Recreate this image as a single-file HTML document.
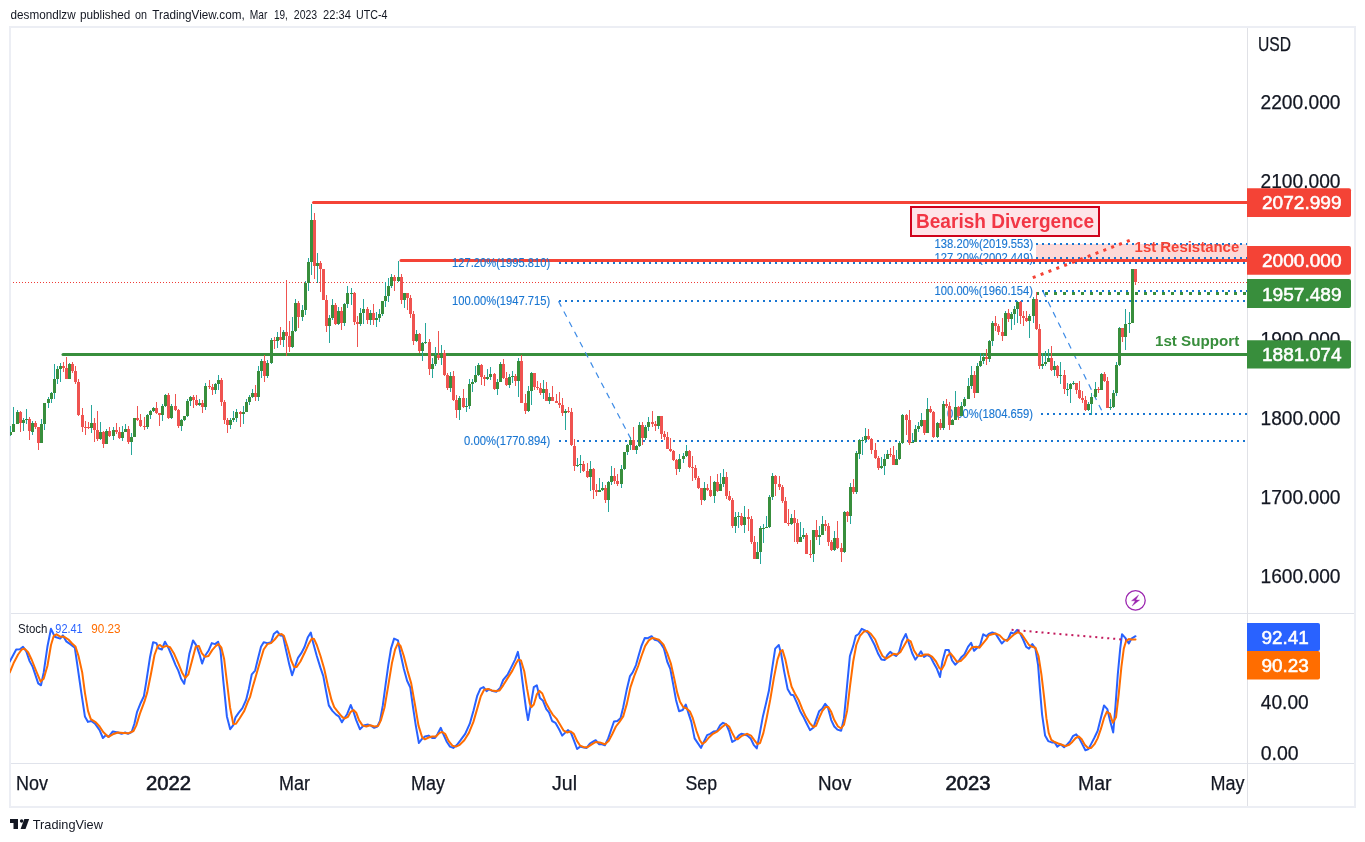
<!DOCTYPE html>
<html lang="en"><head><meta charset="utf-8"><title>TradingView chart snapshot</title>
<style>html,body{margin:0;padding:0;background:#fff}body{width:1365px;height:842px;overflow:hidden;position:relative}svg{position:absolute;left:0;top:0;display:block}text{font-family:"Liberation Sans",Arial,sans-serif;fill:#131722}.ax{font-size:20px;stroke:#131722;stroke-width:.25px}.wl{font-size:18.8px;fill:#fff;stroke:#fff;stroke-width:.55px}.fib{font-size:12.5px;fill:#1976d2;stroke:#1976d2;stroke-width:.12px}.b{font-weight:700}.sb{stroke:#131722;stroke-width:.6px}</style></head><body>
<svg width="1365" height="842" viewBox="0 0 1365 842">
<rect width="1365" height="842" fill="#fff"/>
<text y="19.4" font-size="13"><tspan x="10.6" textLength="65.0" lengthAdjust="spacingAndGlyphs">desmondlzw</tspan> <tspan x="80.0" textLength="50.3" lengthAdjust="spacingAndGlyphs">published</tspan> <tspan x="135.1" textLength="12.0" lengthAdjust="spacingAndGlyphs">on</tspan> <tspan x="152.3" textLength="92.4" lengthAdjust="spacingAndGlyphs">TradingView.com,</tspan> <tspan x="249.8" textLength="17.6" lengthAdjust="spacingAndGlyphs">Mar</tspan> <tspan x="274.0" textLength="13.9" lengthAdjust="spacingAndGlyphs">19,</tspan> <tspan x="293.8" textLength="23.4" lengthAdjust="spacingAndGlyphs">2023</tspan> <tspan x="323.1" textLength="27.8" lengthAdjust="spacingAndGlyphs">22:34</tspan> <tspan x="356.0" textLength="31.5" lengthAdjust="spacingAndGlyphs">UTC-4</tspan></text>
<g fill="none" shape-rendering="crispEdges">
<rect x="10" y="27" width="1345" height="780" stroke="#eceef4" stroke-width="2"/>
<path d="M11 613.5H1354M11 763.5H1354" stroke="#e0e3eb" stroke-width="1"/>
<path d="M1247.5 28V806" stroke="#e0e1e6" stroke-width="1"/>
</g>
<defs><clipPath id="cm"><rect x="10" y="27" width="1237" height="586"/></clipPath><clipPath id="cs"><rect x="10" y="614" width="1237" height="149"/></clipPath></defs>
<g clip-path="url(#cm)">
<path d="M13 282.5H1247" stroke="#ef3b36" stroke-width="1" stroke-dasharray="1 2" fill="none" shape-rendering="crispEdges"/>
<rect x="1036" y="244" width="211" height="15" fill="#f44336" fill-opacity=".2"/>
<text x="934.6" y="247.8" textLength="98.7" lengthAdjust="spacingAndGlyphs" class="fib">138.20%(2019.553)</text>
<text x="934.6" y="262.2" textLength="98.7" lengthAdjust="spacingAndGlyphs" class="fib">127.20%(2002.449)</text>
<text x="934.6" y="294.8" textLength="98.4" lengthAdjust="spacingAndGlyphs" class="fib">100.00%(1960.154)</text>
<text x="946.9" y="417.8" textLength="86.1" lengthAdjust="spacingAndGlyphs" class="fib">0.00%(1804.659)</text>
<path d="M1036.0 244.0H1247.0" stroke="#1976d2" stroke-width="2" stroke-dasharray="2 4" fill="none" shape-rendering="crispEdges"/>
<path d="M1036.0 258.0H1247.0" stroke="#1976d2" stroke-width="2" stroke-dasharray="2 4" fill="none" shape-rendering="crispEdges"/>
<path d="M1042.0 291.0H1247.0" stroke="#1976d2" stroke-width="2" stroke-dasharray="2 4" fill="none" shape-rendering="crispEdges"/>
<path d="M1041.0 414.0H1247.0" stroke="#1976d2" stroke-width="2" stroke-dasharray="2 4" fill="none" shape-rendering="crispEdges"/>
<path d="M1043 291.5L1103.5 414.3" stroke="#3d8be6" stroke-width="1.2" stroke-dasharray="6 5.5" fill="none"/>
<path d="M1036 293.5H1247" stroke="#388e3c" stroke-width="3" stroke-dasharray="3 6" fill="none" shape-rendering="crispEdges"/>
<path d="M1042.0 291.0H1247.0" stroke="#1976d2" stroke-width="2" stroke-dasharray="2 4" fill="none" shape-rendering="crispEdges"/>
<g stroke-width="3" stroke-linecap="round" fill="none">
<path d="M313.5 202.5H1247" stroke="#f44336"/>
<path d="M401 260.5H1247" stroke="#f44336"/>
<path d="M63 354.5H1247" stroke="#388e3c"/>
</g>
<text x="452.0" y="266.7" textLength="98.2" lengthAdjust="spacingAndGlyphs" class="fib">127.20%(1995.810)</text>
<text x="452.0" y="304.8" textLength="98.2" lengthAdjust="spacingAndGlyphs" class="fib">100.00%(1947.715)</text>
<text x="464.0" y="444.6" textLength="86.3" lengthAdjust="spacingAndGlyphs" class="fib">0.00%(1770.894)</text>
<path d="M559.0 263.0H1247.0" stroke="#1976d2" stroke-width="2" stroke-dasharray="2 4" fill="none" shape-rendering="crispEdges"/>
<path d="M559.0 301.0H1247.0" stroke="#1976d2" stroke-width="2" stroke-dasharray="2 4" fill="none" shape-rendering="crispEdges"/>
<path d="M559.0 441.0H1247.0" stroke="#1976d2" stroke-width="2" stroke-dasharray="2 4" fill="none" shape-rendering="crispEdges"/>
<path d="M558.5 301.3L632 441" stroke="#3d8be6" stroke-width="1.2" stroke-dasharray="6 5.5" fill="none"/>
<path d="M1032.8 277.6L1129.8 240.4" stroke="#f44336" stroke-width="3" stroke-dasharray="3 5.4" fill="none"/>
<rect x="911" y="207" width="188" height="29" fill="#fee4e8" stroke="#d0021b" stroke-width="2"/>
<text x="916.0" y="227.8" textLength="178.0" lengthAdjust="spacingAndGlyphs" class="b" font-size="19.5" style="fill:#f23645">Bearish Divergence</text>
<text x="1134.6" y="251.9" textLength="104.6" lengthAdjust="spacingAndGlyphs" class="b" font-size="14" style="fill:#f44336">1st Resistance</text>
<text x="1155.0" y="345.5" textLength="84.2" lengthAdjust="spacingAndGlyphs" class="b" font-size="14" style="fill:#388e3c">1st Support</text>
<g shape-rendering="crispEdges">
<path d="M10.5 426 V436M13.5 407 V432M17.5 410 V424M23.5 418 V431M26.5 409 V424M32.5 421 V435M41.5 419 V443M44.5 403 V430M48.5 397 V408M51.5 392 V403M54.5 364 V399M57.5 366 V384M60.5 363 V382M69.5 363 V379M91.5 405 V433M100.5 422 V440M106.5 429 V444M113.5 427 V440M122.5 426 V441M125.5 424 V432M131.5 433 V455M134.5 418 V437M147.5 414 V429M150.5 410 V419M153.5 407 V412M162.5 404 V421M165.5 394 V407M171.5 404 V419M181.5 419 V431M184.5 416 V421M187.5 399 V417M190.5 396 V406M199.5 399 V406M205.5 383 V410M215.5 383 V394M218.5 375 V390M230.5 418 V429M233.5 411 V422M236.5 409 V422M243.5 406 V424M246.5 399 V412M249.5 395 V405M252.5 389 V398M258.5 366 V401M261.5 359 V378M267.5 360 V378M271.5 338 V364M277.5 332 V348M283.5 330 V347M292.5 317 V348M295.5 299 V332M302.5 305 V321M305.5 281 V315M308.5 258 V291M311.5 204 V275M317.5 253 V283M329.5 315 V343M332.5 299 V320M338.5 307 V325M344.5 303 V326M347.5 286 V308M351.5 288 V305M360.5 308 V326M363.5 299 V324M370.5 310 V325M376.5 312 V327M379.5 309 V322M382.5 301 V316M385.5 282 V307M388.5 278 V302M391.5 274 V288M398.5 261 V282M404.5 293 V308M416.5 330 V342M422.5 342 V361M425.5 323 V344M432.5 358 V378M435.5 347 V366M441.5 345 V365M450.5 372 V392M459.5 396 V420M466.5 398 V412M469.5 379 V409M472.5 379 V392M475.5 366 V383M478.5 363 V376M487.5 369 V380M490.5 367 V380M497.5 379 V395M500.5 362 V382M509.5 374 V388M512.5 371 V383M518.5 358 V397M528.5 386 V412M531.5 372 V405M543.5 380 V399M549.5 393 V404M565.5 409 V430M577.5 458 V467M580.5 455 V473M590.5 461 V491M599.5 478 V492M602.5 482 V491M608.5 481 V512M611.5 466 V485M621.5 465 V488M624.5 452 V470M627.5 444 V455M630.5 437 V450M636.5 445 V454M639.5 422 V447M645.5 425 V440M648.5 417 V431M658.5 416 V429M679.5 454 V472M683.5 453 V463M686.5 445 V457M704.5 482 V501M714.5 481 V503M720.5 473 V491M723.5 469 V487M735.5 512 V533M738.5 512 V528M744.5 506 V533M757.5 542 V559M760.5 526 V564M763.5 524 V543M766.5 516 V528M769.5 495 V528M772.5 473 V500M791.5 514 V525M800.5 522 V542M803.5 528 V539M813.5 530 V562M819.5 526 V545M822.5 516 V535M834.5 531 V551M844.5 511 V553M850.5 483 V524M856.5 451 V494M859.5 439 V459M862.5 437 V455M865.5 428 V443M881.5 457 V469M884.5 454 V475M887.5 450 V459M896.5 450 V465M899.5 441 V460M902.5 414 V444M912.5 433 V443M915.5 425 V442M918.5 422 V432M921.5 413 V427M927.5 398 V433M937.5 422 V438M943.5 401 V430M952.5 419 V425M955.5 391 V420M961.5 402 V416M964.5 397 V407M968.5 378 V399M971.5 366 V389M977.5 363 V393M980.5 353 V367M983.5 354 V364M989.5 340 V362M992.5 321 V346M1005.5 311 V336M1011.5 312 V330M1014.5 306 V325M1017.5 301 V323M1029.5 314 V338M1033.5 297 V323M1042.5 353 V369M1045.5 351 V366M1048.5 349 V362M1054.5 361 V376M1060.5 362 V384M1067.5 383 V396M1070.5 383 V403M1073.5 381 V385M1088.5 402 V411M1091.5 393 V415M1095.5 382 V398M1101.5 373 V390M1110.5 399 V410M1113.5 390 V408M1116.5 362 V396M1119.5 327 V366M1125.5 309 V350M1129.5 312 V333M1132.5 269 V323" stroke="#26a69a" stroke-width="1" fill="none"/>
<path d="M20.5 411 V432M29.5 417 V440M35.5 421 V429M38.5 427 V450M63.5 362 V372M66.5 357 V379M72.5 362 V373M75.5 366 V384M78.5 379 V416M82.5 408 V432M85.5 421 V435M88.5 422 V429M94.5 418 V442M97.5 411 V441M103.5 431 V448M109.5 427 V437M116.5 423 V434M119.5 427 V439M128.5 426 V444M137.5 406 V421M140.5 414 V427M144.5 417 V430M156.5 402 V414M159.5 413 V426M168.5 393 V419M175.5 394 V411M178.5 409 V428M193.5 395 V408M196.5 395 V406M202.5 400 V413M209.5 380 V389M212.5 384 V395M221.5 378 V406M224.5 400 V424M227.5 418 V433M240.5 411 V427M255.5 385 V401M264.5 355 V382M274.5 337 V349M280.5 327 V345M286.5 280 V356M289.5 321 V352M298.5 301 V328M314.5 213 V279M320.5 261 V292M323.5 269 V300M326.5 295 V332M335.5 303 V325M341.5 307 V330M354.5 292 V325M357.5 316 V347M367.5 307 V324M373.5 304 V325M394.5 275 V291M401.5 274 V304M407.5 293 V310M410.5 295 V318M413.5 311 V345M419.5 333 V353M429.5 339 V375M438.5 331 V360M444.5 350 V376M447.5 373 V390M453.5 371 V401M456.5 395 V418M463.5 389 V408M481.5 364 V385M484.5 375 V386M494.5 373 V390M503.5 359 V379M506.5 372 V386M515.5 374 V386M521.5 355 V403M525.5 394 V414M534.5 373 V390M537.5 381 V390M540.5 383 V395M546.5 382 V401M552.5 386 V401M556.5 394 V403M559.5 392 V408M562.5 398 V416M568.5 407 V413M571.5 408 V446M574.5 439 V471M583.5 461 V472M587.5 463 V478M593.5 468 V499M596.5 484 V496M605.5 485 V503M614.5 468 V484M617.5 474 V486M633.5 427 V450M642.5 422 V445M652.5 411 V427M655.5 421 V431M661.5 416 V439M664.5 431 V440M667.5 432 V449M670.5 438 V452M673.5 450 V461M676.5 459 V475M689.5 450 V468M692.5 456 V481M695.5 465 V480M698.5 476 V489M701.5 488 V505M707.5 484 V491M710.5 476 V497M717.5 474 V492M726.5 472 V499M729.5 491 V501M732.5 498 V528M741.5 513 V526M748.5 509 V531M751.5 516 V544M754.5 536 V559M775.5 475 V496M779.5 476 V490M782.5 485 V503M785.5 497 V523M788.5 509 V526M794.5 510 V542M797.5 519 V544M806.5 533 V554M810.5 540 V558M816.5 520 V540M825.5 520 V531M828.5 523 V546M831.5 540 V551M837.5 521 V549M841.5 543 V562M847.5 511 V522M853.5 479 V494M868.5 429 V440M871.5 438 V454M875.5 443 V459M878.5 456 V470M890.5 448 V457M893.5 446 V465M906.5 414 V435M909.5 410 V445M924.5 420 V435M930.5 406 V413M933.5 411 V438M940.5 419 V430M946.5 399 V408M949.5 402 V430M958.5 406 V420M974.5 371 V398M986.5 349 V365M995.5 316 V331M998.5 324 V335M1002.5 318 V341M1008.5 309 V322M1020.5 301 V324M1023.5 311 V326M1026.5 311 V322M1036.5 292 V330M1039.5 324 V369M1051.5 346 V371M1057.5 365 V378M1064.5 370 V394M1076.5 383 V394M1079.5 381 V399M1082.5 391 V403M1085.5 396 V411M1098.5 387 V393M1104.5 372 V382M1107.5 377 V408M1122.5 328 V342M1135.5 269 V285" stroke="#ef5350" stroke-width="1" fill="none"/>
<path d="M9 432h3v3h-3zM12 424h3v8h-3zM16 412h3v12h-3zM22 420h3v3h-3zM25 419h3v1h-3zM31 423h3v9h-3zM40 424h3v19h-3zM43 403h3v21h-3zM47 399h3v4h-3zM50 393h3v6h-3zM53 379h3v14h-3zM56 369h3v10h-3zM59 366h3v3h-3zM68 364h3v15h-3zM90 423h3v5h-3zM99 432h3v7h-3zM105 431h3v13h-3zM112 430h3v6h-3zM121 432h3v6h-3zM124 429h3v3h-3zM130 437h3v5h-3zM133 418h3v19h-3zM146 415h3v12h-3zM149 411h3v4h-3zM152 408h3v3h-3zM161 406h3v9h-3zM164 395h3v11h-3zM170 406h3v12h-3zM180 420h3v6h-3zM183 416h3v4h-3zM186 401h3v15h-3zM189 397h3v4h-3zM198 403h3v2h-3zM204 386h3v21h-3zM214 384h3v6h-3zM217 380h3v4h-3zM229 420h3v5h-3zM232 418h3v2h-3zM235 412h3v6h-3zM242 412h3v2h-3zM245 402h3v10h-3zM248 397h3v5h-3zM251 393h3v4h-3zM257 371h3v26h-3zM260 361h3v10h-3zM266 363h3v13h-3zM270 340h3v23h-3zM276 337h3v4h-3zM282 332h3v8h-3zM291 331h3v16h-3zM294 303h3v28h-3zM301 310h3v7h-3zM304 283h3v27h-3zM307 262h3v21h-3zM310 220h3v42h-3zM316 263h3v3h-3zM328 318h3v8h-3zM331 305h3v13h-3zM337 311h3v13h-3zM343 304h3v19h-3zM346 293h3v11h-3zM350 293h3v1h-3zM359 313h3v11h-3zM362 309h3v4h-3zM369 313h3v7h-3zM375 318h3v2h-3zM378 314h3v4h-3zM381 301h3v13h-3zM384 296h3v5h-3zM387 286h3v10h-3zM390 277h3v9h-3zM397 277h3v4h-3zM403 293h3v7h-3zM415 334h3v7h-3zM421 343h3v8h-3zM424 342h3v1h-3zM431 364h3v5h-3zM434 355h3v9h-3zM440 353h3v5h-3zM449 376h3v12h-3zM458 398h3v12h-3zM465 406h3v1h-3zM468 384h3v22h-3zM471 382h3v2h-3zM474 375h3v7h-3zM477 365h3v10h-3zM486 377h3v2h-3zM489 374h3v3h-3zM496 382h3v7h-3zM499 364h3v18h-3zM508 377h3v8h-3zM511 376h3v1h-3zM517 361h3v20h-3zM527 391h3v20h-3zM530 373h3v18h-3zM542 389h3v4h-3zM548 397h3v4h-3zM564 411h3v2h-3zM576 465h3v1h-3zM579 464h3v1h-3zM589 469h3v8h-3zM598 490h3v2h-3zM601 488h3v2h-3zM607 482h3v18h-3zM610 476h3v6h-3zM620 469h3v15h-3zM623 452h3v17h-3zM626 445h3v7h-3zM629 440h3v5h-3zM635 446h3v4h-3zM638 425h3v21h-3zM644 427h3v11h-3zM647 422h3v5h-3zM657 416h3v10h-3zM678 459h3v10h-3zM682 456h3v3h-3zM685 451h3v5h-3zM703 488h3v12h-3zM713 482h3v14h-3zM719 484h3v7h-3zM722 477h3v7h-3zM734 517h3v9h-3zM737 516h3v1h-3zM743 517h3v8h-3zM756 552h3v7h-3zM759 528h3v24h-3zM762 528h3v1h-3zM765 527h3v1h-3zM768 497h3v30h-3zM771 476h3v21h-3zM790 518h3v6h-3zM799 537h3v5h-3zM802 535h3v2h-3zM812 530h3v24h-3zM818 535h3v2h-3zM821 524h3v11h-3zM833 538h3v12h-3zM843 512h3v40h-3zM849 487h3v29h-3zM855 453h3v39h-3zM858 440h3v14h-3zM861 440h3v1h-3zM864 436h3v4h-3zM880 466h3v2h-3zM883 459h3v7h-3zM886 454h3v5h-3zM895 459h3v6h-3zM898 443h3v16h-3zM901 415h3v28h-3zM911 442h3v1h-3zM914 429h3v13h-3zM917 426h3v3h-3zM920 420h3v6h-3zM926 409h3v24h-3zM936 423h3v14h-3zM942 404h3v24h-3zM951 420h3v5h-3zM954 407h3v13h-3zM960 406h3v10h-3zM963 399h3v7h-3zM967 386h3v13h-3zM970 375h3v11h-3zM976 366h3v27h-3zM979 361h3v5h-3zM982 357h3v4h-3zM988 341h3v18h-3zM991 323h3v18h-3zM1004 313h3v23h-3zM1010 314h3v5h-3zM1013 309h3v5h-3zM1016 302h3v7h-3zM1028 316h3v5h-3zM1032 299h3v17h-3zM1041 364h3v2h-3zM1044 362h3v2h-3zM1047 358h3v4h-3zM1053 366h3v4h-3zM1059 375h3v1h-3zM1066 389h3v1h-3zM1069 384h3v5h-3zM1072 383h3v1h-3zM1087 404h3v6h-3zM1090 397h3v7h-3zM1094 389h3v8h-3zM1100 374h3v16h-3zM1109 407h3v1h-3zM1112 393h3v14h-3zM1115 365h3v28h-3zM1118 328h3v37h-3zM1124 324h3v13h-3zM1128 323h3v1h-3zM1131 269h3v54h-3z" fill="#388e3c"/>
<path d="M19 412h3v11h-3zM28 419h3v12h-3zM34 423h3v4h-3zM37 427h3v16h-3zM62 366h3v2h-3zM65 368h3v11h-3zM71 364h3v7h-3zM74 371h3v11h-3zM77 382h3v33h-3zM81 415h3v12h-3zM84 427h3v1h-3zM87 427h3v1h-3zM93 423h3v7h-3zM96 430h3v9h-3zM102 432h3v12h-3zM108 431h3v5h-3zM115 430h3v2h-3zM118 432h3v6h-3zM127 429h3v13h-3zM136 418h3v2h-3zM139 420h3v6h-3zM143 426h3v1h-3zM155 408h3v5h-3zM158 413h3v2h-3zM167 395h3v23h-3zM174 406h3v4h-3zM177 410h3v16h-3zM192 397h3v3h-3zM195 400h3v5h-3zM201 403h3v4h-3zM208 386h3v1h-3zM211 387h3v3h-3zM220 380h3v22h-3zM223 402h3v18h-3zM226 420h3v5h-3zM239 412h3v2h-3zM254 393h3v4h-3zM263 361h3v15h-3zM273 340h3v1h-3zM279 337h3v3h-3zM285 332h3v4h-3zM288 336h3v11h-3zM297 303h3v14h-3zM313 220h3v46h-3zM319 263h3v6h-3zM322 269h3v31h-3zM325 300h3v26h-3zM334 305h3v19h-3zM340 311h3v12h-3zM353 293h3v29h-3zM356 322h3v2h-3zM366 309h3v11h-3zM372 313h3v7h-3zM393 277h3v4h-3zM400 277h3v23h-3zM406 293h3v5h-3zM409 298h3v16h-3zM412 314h3v27h-3zM418 334h3v17h-3zM428 342h3v27h-3zM437 355h3v3h-3zM443 353h3v22h-3zM446 375h3v13h-3zM452 376h3v24h-3zM455 400h3v10h-3zM462 398h3v9h-3zM480 365h3v12h-3zM483 377h3v2h-3zM493 374h3v15h-3zM502 364h3v14h-3zM505 378h3v7h-3zM514 376h3v5h-3zM520 361h3v42h-3zM524 403h3v8h-3zM533 373h3v14h-3zM536 387h3v1h-3zM539 388h3v5h-3zM545 389h3v12h-3zM551 397h3v4h-3zM555 401h3v2h-3zM558 403h3v2h-3zM561 405h3v8h-3zM567 411h3v1h-3zM570 412h3v33h-3zM573 446h3v20h-3zM582 464h3v7h-3zM586 471h3v6h-3zM592 469h3v21h-3zM595 490h3v2h-3zM604 488h3v12h-3zM613 476h3v5h-3zM616 481h3v3h-3zM632 440h3v10h-3zM641 425h3v13h-3zM651 422h3v2h-3zM654 424h3v2h-3zM660 416h3v18h-3zM663 434h3v3h-3zM666 437h3v12h-3zM669 449h3v2h-3zM672 451h3v9h-3zM675 460h3v9h-3zM688 451h3v16h-3zM691 467h3v1h-3zM694 468h3v10h-3zM697 478h3v10h-3zM700 488h3v12h-3zM706 488h3v2h-3zM709 490h3v6h-3zM716 482h3v9h-3zM725 477h3v19h-3zM728 496h3v4h-3zM731 500h3v26h-3zM740 516h3v9h-3zM747 517h3v2h-3zM750 519h3v23h-3zM753 542h3v17h-3zM774 476h3v8h-3zM778 484h3v3h-3zM781 487h3v14h-3zM784 501h3v22h-3zM787 523h3v1h-3zM793 518h3v5h-3zM796 523h3v19h-3zM805 535h3v19h-3zM809 554h3v1h-3zM815 530h3v7h-3zM824 524h3v2h-3zM827 526h3v16h-3zM830 542h3v8h-3zM836 538h3v10h-3zM840 548h3v4h-3zM846 512h3v4h-3zM852 487h3v5h-3zM867 436h3v3h-3zM870 439h3v11h-3zM874 450h3v8h-3zM877 458h3v10h-3zM889 454h3v1h-3zM892 455h3v10h-3zM905 415h3v5h-3zM908 420h3v23h-3zM923 420h3v13h-3zM929 409h3v3h-3zM932 412h3v25h-3zM939 423h3v5h-3zM945 404h3v2h-3zM948 406h3v19h-3zM957 407h3v9h-3zM973 375h3v18h-3zM985 357h3v2h-3zM994 323h3v3h-3zM997 326h3v6h-3zM1001 332h3v4h-3zM1007 313h3v6h-3zM1019 302h3v14h-3zM1022 316h3v2h-3zM1025 318h3v3h-3zM1035 299h3v30h-3zM1038 329h3v37h-3zM1050 358h3v12h-3zM1056 366h3v10h-3zM1063 375h3v14h-3zM1075 383h3v7h-3zM1078 390h3v8h-3zM1081 398h3v2h-3zM1084 400h3v10h-3zM1097 389h3v1h-3zM1103 374h3v7h-3zM1106 381h3v27h-3zM1121 328h3v9h-3zM1134 269h3v13h-3z" fill="#ef5350"/>
</g>
<g transform="translate(1135.5 600.4)"><circle r="9.7" fill="#fff" stroke="#9c27b0" stroke-width="1.3"/><path d="M3.1-5.5L-4 .4H-.2L-3.4 5.6 4.2-.4H.4z" fill="#9c27b0" stroke="#9c27b0" stroke-width=".35" stroke-linejoin="round"/></g>
</g>
<g clip-path="url(#cs)" fill="none" stroke-linejoin="round" stroke-linecap="round">
<path d="M9.8 661.5L16.2 649.5L19.9 649.2L23.0 646.8L26.3 651.4L29.6 661.1L32.7 666.9L38.2 683.4L41.0 685.3L43.7 672.4L47.4 646.8L51.0 628.8L54.7 636.7L60.2 638.6L62.9 635.4L66.2 641.3L70.3 644.1L74.8 647.7L77.6 666.9L81.3 692.6L84.9 716.4L88.0 721.9L91.3 721.0L95.0 723.7L99.6 730.1L102.9 738.0L106.0 735.1L108.7 736.9L112.8 731.4L117.9 732.5L121.6 733.8L125.2 732.5L128.0 733.8L131.6 732.0L134.4 723.7L137.1 711.8L140.8 702.7L143.9 696.2L146.3 681.6L149.9 657.8L153.1 642.2L156.4 643.1L158.5 648.3L161.8 649.5L165.0 641.7L168.3 647.7L171.9 656.0L175.6 665.1L178.3 670.6L181.1 678.8L184.2 683.8L186.6 670.6L189.3 654.1L193.0 640.4L196.6 645.9L199.4 654.1L202.1 663.6L204.9 656.0L208.5 650.8L211.8 643.1L215.0 644.1L218.1 641.7L220.5 650.5L223.2 679.8L226.9 716.4L230.2 729.2L233.3 725.2L235.5 717.3L238.8 712.7L242.4 708.2L246.1 699.9L248.8 688.9L251.8 674.3L255.1 670.6L258.2 657.8L261.0 646.8L263.7 642.2L267.4 643.1L271.1 642.2L273.8 634.0L277.1 631.2L280.2 635.4L283.0 635.8L285.7 648.6L289.4 665.1L292.1 675.2L294.9 666.9L298.0 657.8L301.3 653.2L304.6 646.8L307.7 637.6L310.8 632.5L313.2 643.1L316.8 656.0L320.5 667.9L323.3 676.1L326.0 690.8L328.8 705.4L332.4 710.9L336.1 714.6L338.8 716.4L341.9 722.3L344.3 718.2L347.1 714.2L350.7 705.0L353.5 711.8L356.2 720.1L359.9 729.2L363.6 725.6L368.1 724.6L370.9 725.6L374.2 727.8L377.3 726.5L380.0 721.0L382.8 705.4L385.5 685.3L388.3 665.1L391.0 648.6L394.1 638.6L398.0 640.4L400.2 652.3L403.8 668.8L407.1 680.7L410.3 687.5L413.0 707.2L415.8 725.6L418.9 743.0L422.2 738.7L424.9 736.5L428.6 735.6L432.2 738.0L435.0 738.0L437.7 733.8L440.8 727.8L443.2 733.8L446.9 742.0L450.0 746.6L453.3 747.9L457.0 744.8L460.6 740.2L465.2 733.8L469.8 723.7L473.4 710.9L477.1 696.2L480.4 688.6L483.5 687.1L486.6 691.1L489.0 689.3L492.7 691.1L496.3 691.7L500.1 688.0L503.2 679.8L507.8 674.3L511.5 666.9L515.1 659.6L517.9 651.9L520.6 666.9L523.4 688.9L526.1 709.1L528.0 720.1L530.7 705.4L533.8 687.1L536.8 685.3L539.9 698.1L543.0 700.8L546.3 709.1L549.0 712.4L552.1 721.0L555.4 722.8L559.1 729.2L562.2 735.6L565.0 732.9L567.9 730.1L571.0 732.9L573.8 740.2L577.1 749.0L580.2 746.6L583.8 747.5L586.6 747.9L589.9 743.5L593.0 741.7L595.7 740.2L599.0 744.2L602.1 744.2L604.9 745.3L608.2 738.4L611.3 729.2L614.0 721.5L617.3 721.0L620.5 718.2L623.2 707.2L626.9 688.9L630.0 676.1L632.7 672.4L636.0 665.1L638.8 655.0L641.5 645.9L644.8 638.0L647.9 638.2L651.6 636.2L654.7 639.8L657.6 640.4L660.8 643.5L663.9 648.6L667.2 661.5L670.3 668.8L673.0 683.4L676.0 699.9L679.1 711.3L682.7 710.0L685.8 704.5L688.2 712.4L691.3 721.9L694.6 738.4L698.3 743.9L701.0 747.9L703.8 742.0L707.1 735.1L710.2 733.8L713.9 731.4L717.0 731.0L719.9 725.6L723.0 722.8L726.1 724.1L729.1 731.0L732.2 742.0L735.3 740.2L738.6 735.6L741.3 733.8L743.7 734.3L747.3 735.6L750.6 738.4L753.7 744.8L756.8 748.4L759.2 736.5L762.9 716.4L766.0 703.6L768.9 690.8L772.1 668.8L775.2 648.6L778.8 645.0L781.2 654.1L784.0 670.6L787.6 688.9L790.9 694.8L793.5 695.3L796.8 702.7L800.1 710.9L803.2 716.4L806.8 723.7L810.0 730.1L813.3 727.8L816.0 720.1L819.1 711.3L822.1 708.7L825.2 703.9L827.9 707.2L831.2 720.1L834.3 726.5L837.4 729.6L841.1 730.7L844.0 718.2L847.1 685.3L849.9 656.0L853.2 645.9L855.8 635.8L858.7 634.0L861.8 628.8L864.9 630.3L868.2 633.1L871.5 639.1L874.6 645.0L878.3 654.1L881.4 659.6L884.7 660.0L887.4 655.0L890.2 651.9L892.9 654.1L896.0 656.0L899.0 652.3L902.1 641.3L905.8 634.0L908.9 643.1L912.2 653.2L915.3 659.6L918.0 656.0L921.0 651.4L924.1 656.9L927.2 655.0L930.5 656.9L933.8 663.3L936.9 668.8L940.0 677.0L942.4 661.5L945.5 650.1L948.8 650.1L952.1 660.5L955.2 664.7L958.3 661.5L961.6 656.9L964.4 654.5L968.0 646.8L971.1 642.8L974.1 650.8L977.2 647.7L979.9 645.9L983.2 634.3L986.3 636.2L988.7 634.0L992.3 632.5L995.6 633.6L998.7 638.6L1001.8 643.5L1004.8 640.4L1007.9 639.5L1011.0 632.5L1013.9 633.6L1017.1 629.9L1020.2 633.6L1023.1 639.5L1026.2 646.8L1029.0 648.6L1032.3 644.1L1035.4 648.6L1038.1 665.1L1039.9 688.9L1042.1 714.6L1045.1 735.6L1048.2 741.1L1051.8 742.4L1054.6 742.4L1057.3 746.6L1060.5 744.2L1064.1 747.2L1067.4 744.2L1070.2 741.1L1072.9 736.2L1076.2 734.3L1079.3 738.4L1082.1 743.9L1085.4 750.3L1088.5 749.0L1091.2 743.9L1094.5 737.5L1097.6 731.0L1100.8 718.2L1104.0 705.4L1107.3 709.1L1109.9 720.1L1113.2 732.5L1115.4 707.2L1117.8 674.3L1120.2 648.6L1122.0 634.3L1125.1 637.6L1128.8 643.5L1131.5 638.6L1135.5 636.2" stroke="#2962ff" stroke-width="2"/>
<path d="M9.8 672.4L13.5 663.3L18.1 654.5L21.7 649.5L24.5 648.6L28.1 652.3L31.8 660.0L36.4 671.5L40.6 681.6L43.7 678.8L47.4 666.0L51.0 645.0L53.8 635.8L56.5 634.3L60.2 636.7L63.9 636.7L68.4 639.5L72.1 643.5L75.4 646.4L78.5 656.0L82.2 672.4L84.9 692.6L88.0 710.9L90.8 719.1L95.9 722.3L99.6 726.5L103.2 732.0L108.4 736.9L112.8 734.3L117.9 732.5L123.4 732.9L128.9 733.2L133.5 731.0L136.2 725.6L139.9 713.6L144.4 701.7L147.2 692.6L150.9 674.3L154.5 655.0L157.8 645.9L160.0 645.0L162.8 647.2L166.4 645.9L170.1 647.2L173.8 653.2L178.3 663.3L182.0 672.4L185.3 677.9L188.4 674.3L192.1 660.5L195.7 646.8L198.8 645.9L201.8 653.2L204.9 656.9L208.5 656.0L212.2 650.1L215.9 645.9L218.6 644.1L221.4 647.7L224.1 658.7L226.9 681.6L230.0 707.2L233.3 724.1L236.0 723.7L239.7 718.2L244.3 710.9L247.9 701.7L250.0 697.2L252.7 687.1L256.4 674.3L260.1 661.5L263.7 649.5L267.4 644.1L271.1 643.1L274.7 639.5L278.4 634.9L281.5 634.0L283.9 635.8L287.5 646.8L291.2 660.5L294.0 666.9L296.7 666.9L300.4 661.5L304.9 652.3L308.6 644.1L311.9 638.6L314.1 639.1L316.8 645.0L320.5 656.0L324.2 668.8L327.8 685.3L331.5 699.9L334.2 707.2L337.9 711.8L341.6 716.4L344.3 718.6L348.0 716.8L350.7 711.8L353.5 710.0L356.2 712.7L359.0 720.1L362.6 725.6L366.3 726.5L370.0 725.2L374.5 726.5L378.2 725.9L381.0 720.1L384.6 707.2L388.3 685.3L391.9 663.3L395.1 649.5L398.0 643.1L400.5 645.9L403.8 656.0L407.5 670.6L411.2 683.4L414.8 703.6L418.5 725.6L422.2 737.5L424.9 739.3L428.6 737.5L432.2 736.5L435.9 736.5L439.6 732.9L442.3 732.0L445.1 733.8L448.7 741.1L452.4 745.7L456.0 746.6L459.7 744.8L464.3 740.2L468.9 732.9L473.4 721.9L477.1 709.1L480.8 696.2L484.1 689.8L488.1 688.9L491.8 690.4L495.4 691.1L499.6 690.4L503.2 685.3L507.8 677.9L512.4 670.6L516.1 663.3L518.4 659.6L521.0 660.5L524.3 671.5L527.1 688.9L529.8 703.6L531.3 707.2L533.8 704.5L536.8 694.4L539.3 690.8L542.3 693.5L546.3 703.6L549.9 710.0L552.7 714.6L556.4 718.6L560.0 724.6L563.7 730.7L567.3 732.5L570.5 731.4L573.8 733.8L577.1 741.1L580.2 745.7L583.8 747.2L587.5 747.2L592.1 744.2L595.7 742.0L599.8 742.4L604.9 744.2L608.6 741.1L612.2 734.3L615.9 726.5L619.5 721.9L623.2 716.4L626.9 703.6L630.5 687.1L634.2 676.1L638.2 666.0L641.5 656.0L645.2 645.9L648.8 640.4L652.1 638.0L655.3 638.6L658.9 639.8L663.5 644.6L667.2 653.2L670.8 663.3L674.1 677.9L677.2 692.6L680.0 701.7L683.3 707.2L686.4 708.2L690.1 711.8L692.8 718.2L696.5 731.0L699.8 740.2L702.3 743.9L705.3 742.0L708.9 737.5L712.9 733.8L717.5 731.4L722.1 727.0L725.8 724.1L729.1 726.5L732.2 732.9L735.3 738.7L737.7 739.3L741.3 736.2L743.7 735.1L747.3 733.8L751.0 735.6L754.3 740.2L757.4 744.2L760.1 743.0L763.4 732.9L766.6 718.2L770.2 699.9L773.9 677.9L777.5 659.6L780.3 651.4L782.5 650.1L785.4 659.6L788.5 674.3L791.6 686.7L794.9 693.5L798.6 699.9L802.3 709.1L805.9 716.8L809.6 722.8L813.3 727.0L816.0 725.9L819.1 718.2L822.4 710.9L825.7 706.9L828.3 706.9L831.2 711.8L834.3 720.1L838.0 726.5L841.1 728.3L844.0 724.6L847.1 710.9L849.9 687.1L853.2 661.5L856.3 645.0L860.0 635.8L863.6 631.8L867.3 630.9L871.0 634.0L875.2 639.5L878.8 648.6L882.5 656.0L886.2 658.7L889.8 656.3L893.5 653.8L897.1 654.5L900.3 652.3L903.9 645.9L907.6 639.5L910.7 641.3L914.0 650.5L917.3 655.6L921.0 656.0L925.0 654.5L928.6 654.5L932.3 656.9L936.0 661.5L939.3 667.9L941.5 669.7L944.2 665.1L947.3 656.0L950.3 653.2L953.4 656.9L957.0 661.8L960.7 661.1L964.9 656.9L968.9 651.4L972.2 647.2L976.3 646.8L979.6 647.7L983.2 643.1L986.9 638.6L988.7 635.4L992.3 634.3L996.0 633.6L999.7 635.4L1003.3 639.1L1007.0 640.9L1010.6 637.6L1014.3 634.3L1018.0 632.1L1021.6 634.0L1025.3 639.5L1029.0 645.0L1032.3 646.8L1035.4 647.7L1038.5 656.0L1041.4 674.3L1044.0 696.2L1046.4 718.2L1048.7 732.9L1051.3 739.8L1054.6 742.0L1058.3 743.5L1061.9 744.8L1065.6 746.1L1069.2 744.8L1072.5 741.7L1075.7 738.0L1078.8 736.5L1081.7 739.3L1084.8 744.8L1087.9 747.9L1091.2 747.9L1094.5 744.2L1097.6 738.4L1100.8 729.2L1104.0 718.2L1106.8 711.8L1109.9 713.6L1112.8 722.8L1116.0 717.3L1118.7 694.4L1121.4 666.9L1123.8 648.6L1126.0 641.3L1128.8 639.1L1131.5 639.5L1135.5 639.5" stroke="#ff6d00" stroke-width="2"/>
<path d="M1011.6 629.8L1126 639.8" stroke="#c2185b" stroke-width="2" stroke-dasharray="2 4" stroke-linecap="butt"/>
</g>
<text x="18.1" y="632.5" textLength="29.3" lengthAdjust="spacingAndGlyphs" font-size="12">Stoch</text>
<text x="55.3" y="632.5" textLength="27.4" lengthAdjust="spacingAndGlyphs" font-size="12" style="fill:#2962ff">92.41</text>
<text x="91.3" y="632.5" textLength="29.3" lengthAdjust="spacingAndGlyphs" font-size="12" style="fill:#ff6d00">90.23</text>
<text x="1258.0" y="51.4" textLength="33.0" lengthAdjust="spacingAndGlyphs" class="ax">USD</text>
<text x="1260.5" y="108.9" textLength="80.0" lengthAdjust="spacingAndGlyphs" class="ax">2200.000</text>
<text x="1260.5" y="187.9" textLength="80.0" lengthAdjust="spacingAndGlyphs" class="ax">2100.000</text>
<text x="1260.5" y="266.9" textLength="80.0" lengthAdjust="spacingAndGlyphs" class="ax">2000.000</text>
<text x="1260.5" y="345.9" textLength="80.0" lengthAdjust="spacingAndGlyphs" class="ax">1900.000</text>
<text x="1260.5" y="424.9" textLength="80.0" lengthAdjust="spacingAndGlyphs" class="ax">1800.000</text>
<text x="1260.5" y="503.9" textLength="80.0" lengthAdjust="spacingAndGlyphs" class="ax">1700.000</text>
<text x="1260.5" y="582.9" textLength="80.0" lengthAdjust="spacingAndGlyphs" class="ax">1600.000</text>
<path d="M1247 188.3H1349.0a2 2 0 0 1 2 2V214.9a2 2 0 0 1-2 2H1247z" fill="#f44336"/>
<text x="1262.0" y="209.3" textLength="79.5" lengthAdjust="spacingAndGlyphs" class="wl">2072.999</text>
<path d="M1247 246.1H1349.0a2 2 0 0 1 2 2V272.8a2 2 0 0 1-2 2H1247z" fill="#f44336"/>
<text x="1262.0" y="267.2" textLength="79.5" lengthAdjust="spacingAndGlyphs" class="wl">2000.000</text>
<path d="M1247 279.1H1349.0a2 2 0 0 1 2 2V305.9a2 2 0 0 1-2 2H1247z" fill="#388e3c"/>
<text x="1262.0" y="300.6" textLength="79.5" lengthAdjust="spacingAndGlyphs" class="wl">1957.489</text>
<path d="M1247 340.2H1349.0a2 2 0 0 1 2 2V366.6a2 2 0 0 1-2 2H1247z" fill="#388e3c"/>
<text x="1262.0" y="361.2" textLength="79.5" lengthAdjust="spacingAndGlyphs" class="wl">1881.074</text>
<text x="1260.8" y="709.0" textLength="47.9" lengthAdjust="spacingAndGlyphs" class="ax">40.00</text>
<text x="1260.8" y="760.4" textLength="37.9" lengthAdjust="spacingAndGlyphs" class="ax">0.00</text>
<path d="M1247 622.9H1318.0a2 2 0 0 1 2 2V649.0a2 2 0 0 1-2 2H1247z" fill="#2962ff"/>
<text x="1261.4" y="644.4" textLength="47.3" lengthAdjust="spacingAndGlyphs" class="wl">92.41</text>
<path d="M1247 651.0H1318.0a2 2 0 0 1 2 2V677.5a2 2 0 0 1-2 2H1247z" fill="#ff6d00"/>
<text x="1261.4" y="672.4" textLength="47.3" lengthAdjust="spacingAndGlyphs" class="wl">90.23</text>
<text x="16.0" y="789.6" textLength="32.0" lengthAdjust="spacingAndGlyphs" class="ax">Nov</text>
<text x="146.0" y="789.6" textLength="45.0" lengthAdjust="spacingAndGlyphs" class="ax sb">2022</text>
<text x="279.0" y="789.6" textLength="31.0" lengthAdjust="spacingAndGlyphs" class="ax">Mar</text>
<text x="411.0" y="789.6" textLength="34.0" lengthAdjust="spacingAndGlyphs" class="ax">May</text>
<text x="552.0" y="789.6" textLength="25.0" lengthAdjust="spacingAndGlyphs" class="ax">Jul</text>
<text x="685.5" y="789.6" textLength="31.5" lengthAdjust="spacingAndGlyphs" class="ax">Sep</text>
<text x="818.0" y="789.6" textLength="33.5" lengthAdjust="spacingAndGlyphs" class="ax">Nov</text>
<text x="945.5" y="789.6" textLength="45.0" lengthAdjust="spacingAndGlyphs" class="ax sb">2023</text>
<text x="1078.0" y="789.6" textLength="33.5" lengthAdjust="spacingAndGlyphs" class="ax">Mar</text>
<text x="1210.5" y="789.6" textLength="34.0" lengthAdjust="spacingAndGlyphs" class="ax">May</text>
<g fill="#131722"><path d="M10 819h8v10h-4.5v-6H10z"/><circle cx="21.6" cy="820.9" r="1.75"/><path d="M24.3 819h4.9l-3.7 10h-4.9z"/></g>
<text x="32.8" y="828.7" textLength="70.1" lengthAdjust="spacingAndGlyphs" font-size="13">TradingView</text>
</svg></body></html>
